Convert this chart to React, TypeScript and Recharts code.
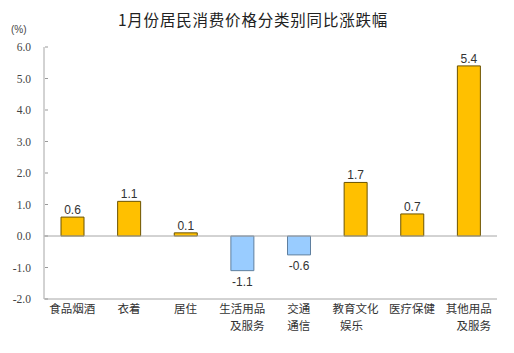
import React from 'react';
import { BarChart, Bar, XAxis, YAxis, Cell, LabelList, ReferenceLine } from 'recharts';

const categories = ['食品烟酒', '衣着', '居住', '生活用品\n及服务', '交通\n通信', '教育文化\n娱乐', '医疗保健', '其他用品\n及服务'];
const values = [0.6, 1.1, 0.1, -1.1, -0.6, 1.7, 0.7, 5.4];
const yTicks = [-2, -1, 0, 1, 2, 3, 4, 5, 6];
const title = '1月份居民消费价格分类别同比涨跌幅';
const unit = '(%)';

const data = categories.map((c, i) => ({ name: c, value: values[i] }));

const secondLineShift: Record<string, number> = { '及服务': 5, '娱乐': -4 };

const XTick = (props: any) => {
  const { x, y, payload } = props;
  const lines = String(payload.value).split('\n');
  return (
    <g>
      {lines.map((l, i) => (
        <text
          key={i}
          x={x + (i > 0 ? secondLineShift[l] || 0 : 0)}
          y={y + 12 + i * 17}
          textAnchor="middle"
          fontSize={11.5}
          fill="#333"
          fontFamily="'Noto Sans CJK SC', sans-serif"
        >
          {l}
        </text>
      ))}
    </g>
  );
};

const YTick = (props: any) => {
  const { x, y, payload } = props;
  return (
    <g>
      <line x1={x + 1} x2={x + 4} y1={y} y2={y} stroke="#999" />
      <text x={x - 13} y={y + 4} textAnchor="end" fontSize={11.5} fill="#444" fontFamily="'Liberation Serif', 'DejaVu Serif', serif">
        {Number(payload.value).toFixed(1)}
      </text>
    </g>
  );
};

const ValueLabel = (props: any) => {
  const { x, y, width, height, value } = props;
  const neg = value < 0;
  const cx = x + width / 2;
  const top = Math.min(y, y + height);
  const bottom = Math.max(y, y + height);
  const ty = neg ? bottom + 15 : top - 3;
  return (
    <text x={cx} y={ty} textAnchor="middle" fontSize={12} fill="#333" fontFamily="'Liberation Sans', Arial, sans-serif">
      {value.toFixed(1)}
    </text>
  );
};

export default function App() {
  return (
    <div style={{ position: 'relative', width: 498, height: 340 }}>
      <div
        style={{
          position: 'absolute',
          left: 245,
          top: 2,
          transform: 'translateX(-50%)',
          whiteSpace: 'nowrap',
          fontSize: 15.5,
          letterSpacing: 0.8,
          color: '#222',
          fontFamily: "'Noto Sans CJK SC', sans-serif",
          lineHeight: '18px',
        }}
      >
        {title}
      </div>
      <div
        style={{
          position: 'absolute',
          left: 3,
          top: 15,
          fontSize: 10,
          color: '#444',
          fontFamily: "'Liberation Sans', sans-serif",
          lineHeight: '14px',
        }}
      >
        {unit}
      </div>
      <BarChart width={498} height={340} data={data} margin={{ top: 39, right: 9, bottom: 4, left: 0 }} barSize={23}>
        <XAxis
          dataKey="name"
          interval={0}
          tickLine={false}
          tickSize={0}
          height={45}
          axisLine={{ stroke: '#a6a6a6' }}
          tick={<XTick />}
        />
        <XAxis xAxisId="top" orientation="top" dataKey="name" height={0} tick={false} tickLine={false} axisLine={{ stroke: '#a6a6a6' }} />
        <YAxis
          domain={[-2, 6]}
          ticks={yTicks}
          interval={0}
          width={36}
          tickLine={false}
          tickSize={0}
          tickMargin={0}
          axisLine={{ stroke: '#a6a6a6' }}
          tick={<YTick />}
        />
        <YAxis yAxisId="right" orientation="right" width={0} tick={false} tickLine={false} axisLine={{ stroke: '#a6a6a6' }} />
        <ReferenceLine y={0} stroke="#a6a6a6" />
        <Bar dataKey="value" isAnimationActive={false}>
          {data.map((d, i) => (
            <Cell
              key={i}
              fill={d.value < 0 ? '#99CCFF' : '#FFC000'}
              stroke={d.value < 0 ? '#5f7f9f' : '#6b5300'}
              strokeWidth={1}
            />
          ))}
          <LabelList dataKey="value" content={<ValueLabel />} />
        </Bar>
      </BarChart>
    </div>
  );
}
